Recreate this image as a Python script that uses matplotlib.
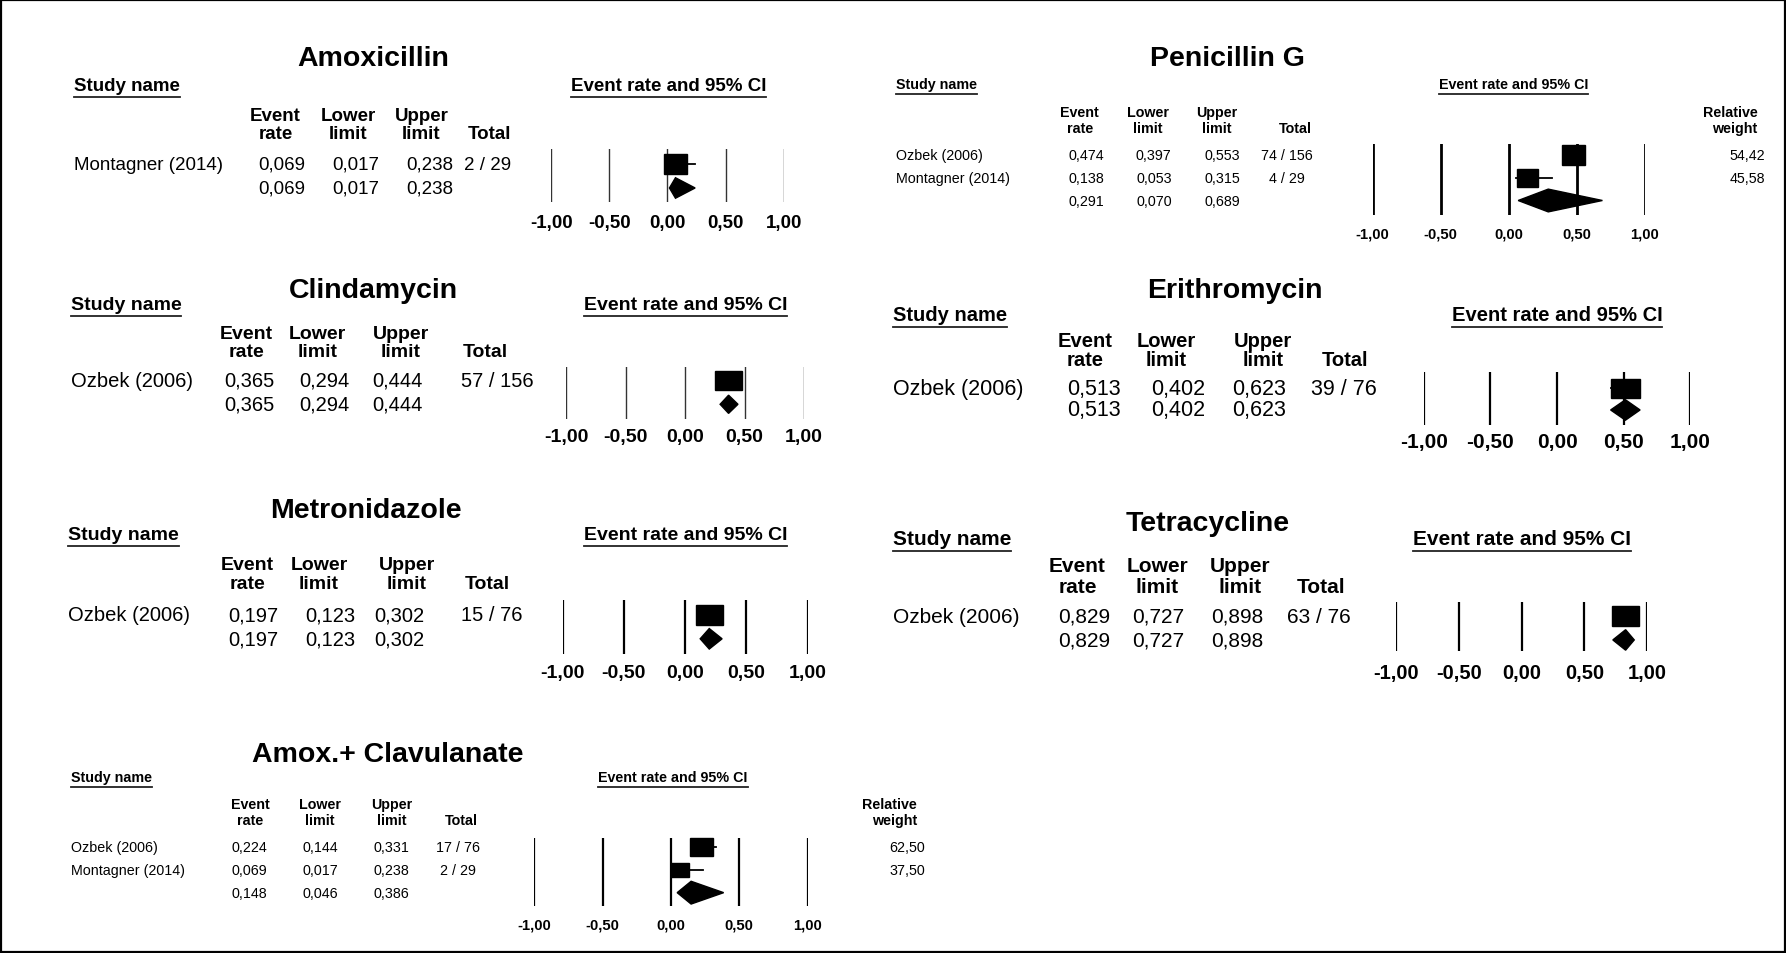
import matplotlib
matplotlib.use('Agg')
import matplotlib.pyplot as plt
from matplotlib import font_manager
from matplotlib.patches import Rectangle, Polygon
from matplotlib.lines import Line2D

# ---- data ----
amox_studies = ['Montagner (2014)']
amox_rate = [0.069]
amox_lower = [0.017]
amox_upper = [0.238]
amox_events = [2]
amox_total = [29]
amox_pooled = [0.069, 0.017, 0.238]

peng_studies = ['Ozbek (2006)', 'Montagner (2014)']
peng_rate = [0.474, 0.138]
peng_lower = [0.397, 0.053]
peng_upper = [0.553, 0.315]
peng_events = [74, 4]
peng_total = [156, 29]
peng_weight = [54.42, 45.58]
peng_pooled = [0.291, 0.070, 0.689]

clin_studies = ['Ozbek (2006)']
clin_rate = [0.365]
clin_lower = [0.294]
clin_upper = [0.444]
clin_events = [57]
clin_total = [156]
clin_pooled = [0.365, 0.294, 0.444]

erit_studies = ['Ozbek (2006)']
erit_rate = [0.513]
erit_lower = [0.402]
erit_upper = [0.623]
erit_events = [39]
erit_total = [76]
erit_pooled = [0.513, 0.402, 0.623]

metr_studies = ['Ozbek (2006)']
metr_rate = [0.197]
metr_lower = [0.123]
metr_upper = [0.302]
metr_events = [15]
metr_total = [76]
metr_pooled = [0.197, 0.123, 0.302]

tetr_studies = ['Ozbek (2006)']
tetr_rate = [0.829]
tetr_lower = [0.727]
tetr_upper = [0.898]
tetr_events = [63]
tetr_total = [76]
tetr_pooled = [0.829, 0.727, 0.898]

clav_studies = ['Ozbek (2006)', 'Montagner (2014)']
clav_rate = [0.224, 0.069]
clav_lower = [0.144, 0.017]
clav_upper = [0.331, 0.238]
clav_events = [17, 2]
clav_total = [76, 29]
clav_weight = [62.50, 37.50]
clav_pooled = [0.148, 0.046, 0.386]

ticks = [-1.0, -0.5, 0.0, 0.5, 1.0]

# ---- layout, in units of the reference as displayed (1568 x 838) ----
W, H = 1568, 838
installed = {f.name for f in font_manager.fontManager.ttflist}
WIDE = 'Liberation Sans'
NARROW = 'Liberation Sans Narrow' if 'Liberation Sans Narrow' in installed else WIDE
nscale = 1.0 if NARROW != WIDE else 0.93

fig = plt.figure(figsize=(17.86, 9.54), dpi=100)


def fx(x):
    return x / W


def fy(y):
    return 1 - y / H


def fmt(v, nd=3):
    return f"{v:.{nd}f}".replace('.', ',')


underlined = []


def draw_panel(title, studies, rate, lower, upper, events, total, pooled, L, weight=None):
    fam, fs = L['font'], L['fs']
    hfs = L.get('hfs', fs)
    txt = dict(family=fam, size=fs, va='center')
    bold = dict(family=fam, size=hfs, va='center', weight='bold')

    fig.text(fx(L['title'][0]), fy(L['title'][1]), title, family=WIDE,
             weight='bold', size=L['title_fs'], ha='center', va='center')
    underlined.append(fig.text(fx(L['study_x']), fy(L['label_y']), 'Study name', ha='left', **bold))
    underlined.append(fig.text(fx(L['ci_x']), fy(L['label_y']), 'Event rate and 95% CI', ha='center', **bold))

    heads = [('Event', 'rate'), ('Lower', 'limit'), ('Upper', 'limit'), ('', 'Total')]
    for (a, b), x in zip(heads, L['cols']):
        fig.text(fx(x), fy(L['head_y'][0]), a, ha='center', **bold)
        fig.text(fx(x), fy(L['head_y'][1]), b, ha='center', **bold)
    if weight is not None:
        fig.text(fx(L['w_head']), fy(L['head_y'][0]), 'Relative', ha='right', **bold)
        fig.text(fx(L['w_head']), fy(L['head_y'][1]), 'weight', ha='right', **bold)

    for i, name in enumerate(studies):
        y = fy(L['rows'][i])
        fig.text(fx(L['study_x']), y, name, ha='left', **txt)
        for v, x in zip([rate[i], lower[i], upper[i]], L['vals']):
            fig.text(fx(x), y, fmt(v), ha='center', **txt)
        fig.text(fx(L['vals'][3]), y, f"{events[i]} / {total[i]}", ha='center', **txt)
        if weight is not None:
            fig.text(fx(L['w_x']), y, fmt(weight[i], 2), ha='right', **txt)
    y = fy(L['rows'][len(studies)])
    for v, x in zip(pooled, L['vals']):
        fig.text(fx(x), y, fmt(v), ha='center', **txt)

    # forest part
    x0, x1, top, bot = L['x_m1'], L['x_p1'], L['top'], L['bot']
    ax = fig.add_axes([fx(x0), fy(bot), (x1 - x0) / W, (bot - top) / H])
    ax.set_xlim(-1, 1)
    r0 = L['rows'][0]
    dr = L['rows'][1] - L['rows'][0]
    ax.set_ylim((bot - r0) / dr, (top - r0) / dr)
    ax.axis('off')
    for t in ticks:
        ax.axvline(t, color=L['line_c'], lw=L['lw'], zorder=1)
    xs = 2 / (x1 - x0)
    ys = 1 / dr
    wmax = max(weight) if weight is not None else 1
    for i in range(len(studies)):
        k = (weight[i] / wmax) ** 0.5 if weight is not None else 1
        ax.plot([lower[i], upper[i]], [i, i], color='black', lw=1.3, zorder=2)
        sw, sh = L['sq'][0] * k * xs, L['sq'][1] * k * ys
        ax.add_patch(Rectangle((rate[i] - sw / 2, i - sh / 2), sw, sh,
                               color='black', zorder=3, clip_on=False))
    n = len(studies)
    dh = L['dia'] * ys
    ax.add_patch(Polygon([(pooled[1], n), (pooled[0], n - dh), (pooled[2], n), (pooled[0], n + dh)],
                         closed=True, color='black', zorder=3, clip_on=False))
    ty = -(L['tick_y'] - bot) / (bot - top)
    for t in ticks:
        ax.text(t, ty, fmt(t, 2), transform=ax.get_xaxis_transform(), ha='center',
                va='center', weight='bold', family=fam, size=L['tick_fs'])


draw_panel('Amoxicillin', amox_studies, amox_rate, amox_lower, amox_upper, amox_events,
           amox_total, amox_pooled,
           dict(font=WIDE, fs=13.5, tick_fs=13.5, title=(328, 52), title_fs=20.5,
                study_x=65, label_y=76, ci_x=587, head_y=(102, 118),
                cols=[242, 306, 370, 430], vals=[247, 312, 377, 428], rows=[145, 166],
                x_m1=484, x_p1=688, top=132, bot=178, tick_y=196,
                sq=(21, 17), dia=9, lw=1.0, line_c='#333333'))

draw_panel('Penicillin G', peng_studies, peng_rate, peng_lower, peng_upper, peng_events,
           peng_total, peng_pooled,
           dict(font=NARROW, fs=11 * nscale, hfs=11 * nscale, tick_fs=11.5 * nscale,
                title=(1078, 52), title_fs=20.5,
                study_x=787, label_y=75, ci_x=1329, head_y=(99, 113),
                cols=[948, 1008, 1068, 1137], vals=[954, 1013, 1073, 1130],
                rows=[137, 157, 177], w_head=1543, w_x=1550,
                x_m1=1205, x_p1=1444, top=127, bot=190, tick_y=206,
                sq=(20, 17), dia=10, lw=2.0, line_c='black'),
           weight=peng_weight)

draw_panel('Clindamycin', clin_studies, clin_rate, clin_lower, clin_upper, clin_events,
           clin_total, clin_pooled,
           dict(font=WIDE, fs=14.5, hfs=14, tick_fs=14, title=(328, 256), title_fs=20.5,
                study_x=62, label_y=268, ci_x=602, head_y=(294, 310),
                cols=[216, 279, 352, 426], vals=[219, 285, 349, 437], rows=[335, 356],
                x_m1=497, x_p1=706, top=323, bot=369, tick_y=384,
                sq=(23, 17), dia=8, lw=1.0, line_c='#333333'))

draw_panel('Erithromycin', erit_studies, erit_rate, erit_lower, erit_upper, erit_events,
           erit_total, erit_pooled,
           dict(font=WIDE, fs=15.5, hfs=14.5, tick_fs=15, title=(1084, 256), title_fs=20.5,
                study_x=784, label_y=277, ci_x=1367, head_y=(300, 317),
                cols=[953, 1024, 1109, 1181], vals=[960, 1034, 1105, 1180], rows=[342, 361],
                x_m1=1250, x_p1=1484, top=328, bot=374, tick_y=389,
                sq=(26, 17), dia=9, lw=1.6, line_c='black'))

draw_panel('Metronidazole', metr_studies, metr_rate, metr_lower, metr_upper, metr_events,
           metr_total, metr_pooled,
           dict(font=WIDE, fs=14.5, hfs=14, tick_fs=14, title=(321, 449), title_fs=20.5,
                study_x=60, label_y=470, ci_x=602, head_y=(497, 513),
                cols=[217, 280, 357, 428], vals=[222, 290, 351, 432], rows=[541, 562],
                x_m1=494, x_p1=709, top=528, bot=575, tick_y=592,
                sq=(24, 17), dia=9, lw=1.6, line_c='black'))

draw_panel('Tetracycline', tetr_studies, tetr_rate, tetr_lower, tetr_upper, tetr_events,
           tetr_total, tetr_pooled,
           dict(font=WIDE, fs=15, tick_fs=14.5, title=(1060, 460), title_fs=20.5,
                study_x=784, label_y=474, ci_x=1336, head_y=(498, 516),
                cols=[946, 1016, 1089, 1160], vals=[952, 1017, 1086, 1158], rows=[542, 563],
                x_m1=1226, x_p1=1446, top=530, bot=573, tick_y=592,
                sq=(24, 17), dia=9, lw=1.6, line_c='black'))

draw_panel('Amox.+ Clavulanate', clav_studies, clav_rate, clav_lower, clav_upper, clav_events,
           clav_total, clav_pooled,
           dict(font=NARROW, fs=11 * nscale, hfs=11 * nscale, tick_fs=11.5 * nscale,
                title=(340, 663), title_fs=20.5,
                study_x=62, label_y=683, ci_x=591, head_y=(707, 721),
                cols=[220, 281, 344, 405], vals=[219, 281, 344, 402],
                rows=[745, 765, 785], w_head=805, w_x=812,
                x_m1=469, x_p1=709, top=737, bot=797, tick_y=813,
                sq=(20, 16), dia=10, lw=1.6, line_c='black'),
           weight=clav_weight)

# underline the section labels
renderer = fig.canvas.get_renderer()
fw, fh = fig.bbox.width, fig.bbox.height
for t in underlined:
    bb = t.get_window_extent(renderer)
    yl = (bb.y0 - 3) / fh
    fig.add_artist(Line2D([bb.x0 / fw, bb.x1 / fw], [yl, yl], transform=fig.transFigure,
                          color='#222222', lw=1.3))

# outer frame
fig.add_artist(Rectangle((0.0008, 0.001), 0.9985, 0.9975, transform=fig.transFigure,
                         fill=False, ec='black', lw=1.6))

fig.savefig('out.png', dpi=100)
